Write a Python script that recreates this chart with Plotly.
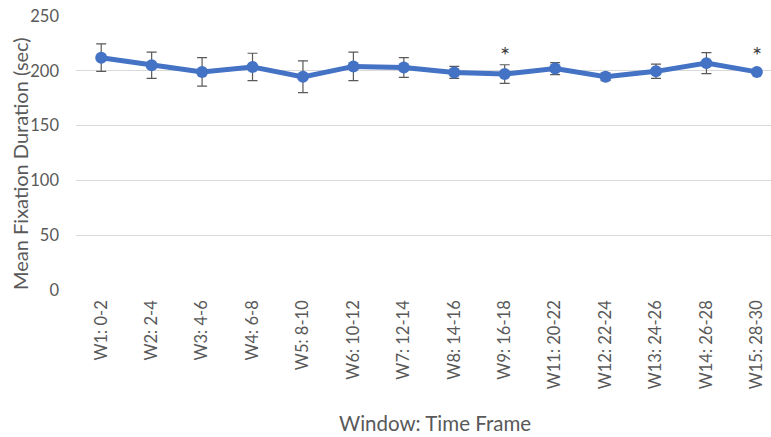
import plotly.graph_objects as go

# Mean fixation duration per 2-second window, with error bars
windows = ["W1: 0-2", "W2: 2-4", "W3: 4-6", "W4: 6-8", "W5: 8-10", "W6: 10-12",
           "W7: 12-14", "W8: 14-16", "W9: 16-18", "W11: 20-22", "W12: 22-24",
           "W13: 24-26", "W14: 26-28", "W15: 28-30"]
mean_duration = [212, 205, 199, 203.5, 194.5, 204, 203, 198.5, 197, 202, 194.5, 199.5, 207, 199]
error = [12.5, 12, 13, 12.5, 14.5, 13, 9, 5.5, 8.5, 5.5, 3.5, 6.5, 9.5, 2]
significant = ["W9: 16-18", "W15: 28-30"]
star_y = [215, 215]

BLUE = "#4472C4"
GRAY = "#595959"
FONT = "Lato, Open Sans, sans-serif"

fig = go.Figure()
fig.add_trace(go.Scatter(
    x=windows, y=mean_duration, mode="lines+markers",
    line=dict(color=BLUE, width=5),
    marker=dict(color=BLUE, size=12),
    error_y=dict(type="data", array=error, visible=True,
                 color=GRAY, thickness=1.2, width=5),
    showlegend=False,
))

for cat, yv in zip(significant, star_y):
    fig.add_annotation(x=cat, y=yv, text="*", showarrow=False,
                       font=dict(family=FONT, size=24, color="#404040"),
                       yanchor="middle")

fig.add_annotation(x=0, y=0.46, xref="paper", yref="paper",
                   text="Mean Fixation Duration (sec)", showarrow=False,
                   textangle=-90, xanchor="center", yanchor="middle",
                   xshift=-56,
                   font=dict(family=FONT, size=20, color=GRAY))

fig.add_annotation(x=0.517, y=0, xref="paper", yref="paper", yanchor="middle",
                   yshift=-133,
                   text="Window: Time Frame", showarrow=False,
                   font=dict(family=FONT, size=20.5, color=GRAY))

fig.update_layout(
    width=771, height=437,
    margin=dict(l=76, r=0, t=16, b=147),
    paper_bgcolor="white", plot_bgcolor="white",
    font=dict(family=FONT, color=GRAY),
    xaxis=dict(range=[-0.5, 13.28], tickangle=-90, showgrid=False,
               showline=False, zeroline=False, ticklabelstandoff=6,
               tickfont=dict(family=FONT, size=16.5, color=GRAY)),
    yaxis=dict(range=[0, 250], dtick=50, showgrid=True, gridcolor="#D9D9D9",
               gridwidth=1, zeroline=False, showline=False,
               ticklabelstandoff=16,
               tickfont=dict(family=FONT, size=16.5, color=GRAY)),
)

fig.write_html("out.html")
